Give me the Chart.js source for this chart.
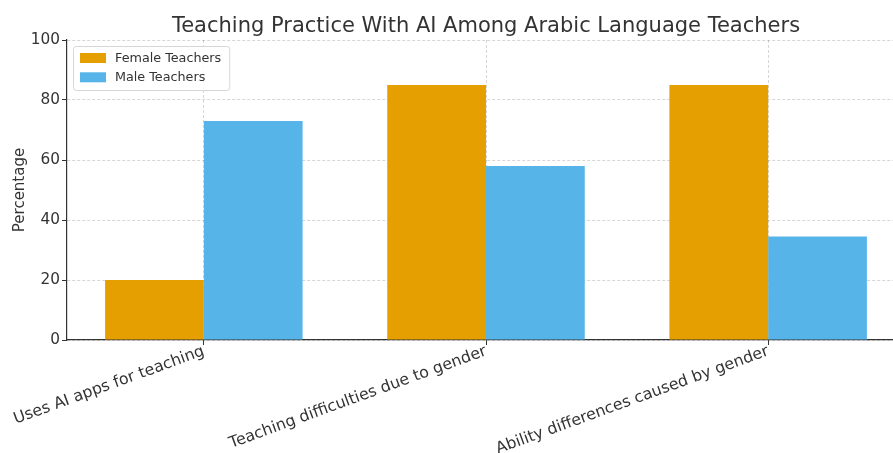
<!DOCTYPE html>
<html><head><meta charset="utf-8">
<script src="https://cdn.jsdelivr.net/npm/chart.js@4"></script>
<style>html,body{margin:0;padding:0;overflow:hidden;background:#fff}canvas{display:block}</style>
</head><body>
<canvas id="c" width="910" height="453"></canvas>
<script>
const chartTitle = "Teaching Practice With AI Among Arabic Language Teachers";
const yAxisLabel = "Percentage";
const categories = ["Uses AI apps for teaching", "Teaching difficulties due to gender", "Ability differences caused by gender"];
const seriesNames = ["Female Teachers", "Male Teachers"];
const femaleTeachers = [20, 85, 85];
const maleTeachers = [73, 58, 34.5];
const yTicks = [0, 20, 40, 60, 80, 100];

const FONT = '"DejaVu Sans", sans-serif';
const TEXT = '#333333';

const titlePlugin = {
  id: 'axTitle',
  afterDraw(chart) {
    const {ctx, chartArea} = chart;
    ctx.save();
    ctx.font = '21px ' + FONT;
    ctx.fillStyle = TEXT;
    ctx.textAlign = 'center';
    ctx.textBaseline = 'alphabetic';
    ctx.fillText(chartTitle, (chartArea.left + chartArea.right) / 2, chartArea.top - 8.5);
    ctx.restore();
  }
};

const legendPlugin = {
  id: 'boxLegend',
  afterDatasetsDraw(chart) {
    const {ctx, chartArea} = chart;
    ctx.save();
    ctx.font = '12.75px ' + FONT;
    const items = chart.data.datasets;
    let maxW = 0;
    items.forEach(d => { maxW = Math.max(maxW, ctx.measureText(d.label).width); });
    const x = chartArea.left + 6, y = chartArea.top + 6;
    const w = 43 + maxW + 7, h = 44;
    ctx.beginPath();
    ctx.roundRect(x + 0.5, y + 0.5, w, h, 3);
    ctx.fillStyle = 'rgba(255,255,255,0.85)';
    ctx.fill();
    ctx.strokeStyle = '#d6d6d6';
    ctx.lineWidth = 1;
    ctx.stroke();
    items.forEach((d, i) => {
      const cy = y + 12 + i * 19.3;
      ctx.fillStyle = d.backgroundColor;
      ctx.fillRect(x + 7, cy - 5, 26, 10);
      ctx.fillStyle = TEXT;
      ctx.textBaseline = 'middle';
      ctx.textAlign = 'left';
      ctx.fillText(d.label, x + 42, cy + 0.5);
    });
    ctx.restore();
  }
};

const toPoints = arr => arr.map((v, i) => ({x: i, y: v}));

new Chart(document.getElementById('c'), {
  type: 'bar',
  data: {
    datasets: [
      {label: seriesNames[0], data: toPoints(femaleTeachers), backgroundColor: '#E69F00', categoryPercentage: 0.7, barPercentage: 1.0},
      {label: seriesNames[1], data: toPoints(maleTeachers), backgroundColor: '#56B4E9', categoryPercentage: 0.7, barPercentage: 1.0}
    ]
  },
  plugins: [titlePlugin, legendPlugin],
  options: {
    responsive: false,
    animation: false,
    devicePixelRatio: 1,
    layout: {padding: {top: 40, right: 5, left: 0, bottom: 0}},
    plugins: {legend: {display: false}, title: {display: false}, tooltip: {enabled: false}},
    scales: {
      x: {
        type: 'linear',
        offset: false,
        min: -0.485,
        max: 2.485,
        afterFit: s => { s.height = 113; },
        afterBuildTicks: s => { s.ticks = categories.map((c, i) => ({value: i})); },
        ticks: {
          autoSkip: false,
          maxRotation: 20,
          minRotation: 20,
          padding: -3,
          color: TEXT,
          font: {family: FONT, size: 15.8},
          callback: v => categories[v] ?? ''
        },
        grid: {offset: false, color: 'rgba(0,0,0,0.16)', lineWidth: 1, tickColor: '#333', tickLength: 5, tickBorderDash: []},
        border: {display: true, color: '#333', width: 1.2, dash: [3, 2]}
      },
      y: {
        min: 0,
        max: 100,
        afterFit: s => { s.width = 67; },
        afterBuildTicks: s => { s.ticks = yTicks.map(v => ({value: v})); },
        ticks: {color: TEXT, font: {family: FONT, size: 15.3}, padding: 2},
        title: {display: true, text: yAxisLabel, color: TEXT, font: {family: FONT, size: 15}, padding: {top: 11, bottom: 0}},
        grid: {color: 'rgba(0,0,0,0.16)', lineWidth: 1, tickColor: '#333', tickLength: 5, tickBorderDash: []},
        border: {display: true, color: '#333', width: 1.2, dash: [3, 2]}
      }
    }
  }
});
</script>
</body></html>
